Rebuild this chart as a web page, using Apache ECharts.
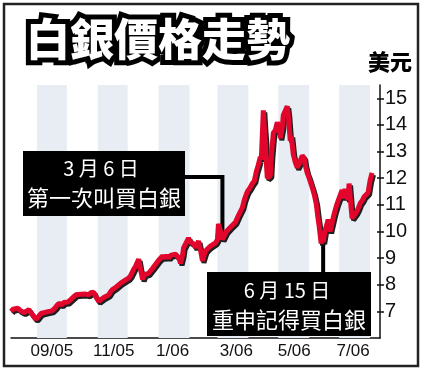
<!DOCTYPE html>
<html><head><meta charset="utf-8">
<script src="https://cdn.jsdelivr.net/npm/echarts@6/dist/echarts.min.js"></script>
<style>html,body{margin:0;padding:0;background:#fff;}#c{width:423px;height:371px;}</style>
</head><body><div id="c"></div>
<script>
const dates = ['2005-08-06','2005-08-08','2005-08-10','2005-08-13','2005-08-15','2005-08-17','2005-08-19','2005-08-21','2005-08-24','2005-08-26','2005-08-29','2005-08-31',
'2005-09-02','2005-09-05','2005-09-08','2005-09-11','2005-09-13','2005-09-16','2005-09-19','2005-09-21','2005-09-23','2005-09-26','2005-09-28','2005-09-30',
'2005-10-02','2005-10-05','2005-10-07','2005-10-10','2005-10-12','2005-10-15','2005-10-17','2005-10-20','2005-10-23','2005-10-25','2005-10-28','2005-10-30',
'2005-11-02','2005-11-04','2005-11-07','2005-11-09','2005-11-12','2005-11-14','2005-11-16','2005-11-19','2005-11-21','2005-11-24','2005-11-26','2005-11-29',
'2005-12-02','2005-12-04','2005-12-07','2005-12-09','2005-12-12','2005-12-14','2005-12-16','2005-12-18','2005-12-20','2005-12-22','2005-12-24','2005-12-26','2005-12-29',
'2006-01-01','2006-01-03','2006-01-05','2006-01-07','2006-01-09','2006-01-11','2006-01-13','2006-01-15','2006-01-18','2006-01-20','2006-01-22','2006-01-23','2006-01-25','2006-01-26','2006-01-28','2006-01-31',
'2006-02-02','2006-02-05','2006-02-07','2006-02-10','2006-02-12','2006-02-14','2006-02-16','2006-02-17','2006-02-19','2006-02-22','2006-02-24','2006-02-27',
'2006-03-01','2006-03-02','2006-03-04','2006-03-06','2006-03-08','2006-03-10','2006-03-12','2006-03-15','2006-03-17','2006-03-19','2006-03-22','2006-03-24','2006-03-26','2006-03-28','2006-03-30','2006-03-31',
'2006-04-02','2006-04-05','2006-04-07','2006-04-09','2006-04-11','2006-04-13','2006-04-14','2006-04-16','2006-04-17','2006-04-18','2006-04-19','2006-04-20','2006-04-22','2006-04-23','2006-04-24','2006-04-26','2006-04-28','2006-04-30',
'2006-05-02','2006-05-03','2006-05-05','2006-05-06','2006-05-08','2006-05-10','2006-05-11','2006-05-13','2006-05-14','2006-05-16','2006-05-18','2006-05-20','2006-05-22','2006-05-23','2006-05-25','2006-05-27','2006-05-28','2006-05-30',
'2006-06-01','2006-06-04','2006-06-06','2006-06-08','2006-06-10','2006-06-11','2006-06-13','2006-06-14','2006-06-15','2006-06-17','2006-06-19','2006-06-20','2006-06-22','2006-06-25','2006-06-27','2006-06-29',
'2006-07-01','2006-07-02','2006-07-04','2006-07-06','2006-07-07','2006-07-09','2006-07-10','2006-07-11','2006-07-13','2006-07-14','2006-07-16','2006-07-18','2006-07-20','2006-07-22','2006-07-24','2006-07-26','2006-07-28','2006-07-30',
'2006-08-01','2006-08-03'];
const prices = [7.00,7.08,7.02,7.12,7.04,6.98,6.95,7.02,7.06,6.95,6.80,6.70,
6.78,6.92,6.95,6.98,7.05,7.02,7.12,7.22,7.30,7.25,7.33,7.38,
7.35,7.45,7.50,7.62,7.68,7.64,7.70,7.65,7.62,7.70,7.72,7.55,
7.38,7.45,7.52,7.57,7.62,7.75,7.83,7.90,7.96,8.06,8.10,8.18,
8.25,8.35,8.58,8.70,8.96,8.55,8.20,8.38,8.32,8.43,8.50,8.62,8.77,
8.92,8.98,9.08,9.00,9.10,9.00,9.10,9.05,9.15,9.05,8.95,8.80,9.10,9.38,9.45,9.75,
9.60,9.53,9.40,9.64,9.30,8.90,9.15,9.26,9.35,9.45,9.40,9.57,
9.70,10.28,10.00,9.70,9.85,10.00,10.05,10.20,10.25,10.35,10.60,10.75,10.90,11.20,11.40,11.50,
11.60,11.80,11.90,12.25,12.50,12.80,12.70,14.55,13.90,13.40,12.60,12.00,11.95,12.10,12.80,13.70,13.80,14.10,
13.90,13.50,13.90,14.36,14.30,14.70,14.40,13.40,13.60,12.90,12.60,12.40,12.55,12.50,12.85,12.75,12.50,12.20,
12.00,11.65,11.40,11.05,10.45,10.20,9.55,9.70,9.60,10.05,10.30,10.45,10.00,10.50,10.80,11.05,
11.25,11.20,11.55,11.25,11.60,11.30,11.20,11.80,10.90,10.50,10.55,10.70,10.85,11.05,11.15,11.30,11.30,11.45,
11.90,12.20];
const bandStarts = ['2005-09-01','2005-11-01','2006-01-01','2006-03-01','2006-05-01','2006-07-01'];
const bandEnds   = ['2005-10-01','2005-12-01','2006-02-01','2006-04-01','2006-06-01','2006-08-01'];
const xTickDates = ['2005-09-16','2005-11-17','2006-01-15','2006-03-20','2006-05-17','2006-07-15'];
const xTickLabels = ['09/05','11/05','1/06','3/06','5/06','7/06'];
const yTicks = [7,8,9,10,11,12,13,14,15];
const titleText = '白銀價格走勢';
const unitText = '美元';
const note1Date = '2006-03-06', note1Lines = ['3 月 6 日','第一次叫買白銀'];
const note2Date = '2006-06-15', note2Lines = ['6 月 15 日','重申記得買白銀'];

// dates -> day number (days since 1970-01-01, UTC) for a linear value axis
const t = s => { const p = s.split('-').map(Number); return Math.round(Date.UTC(p[0], p[1]-1, p[2]) / 86400000); };
const xTickTs = xTickDates.map(t);
const numFont = '"Liberation Sans Narrow","Liberation Sans",Arial,sans-serif';
const cjk = '"Noto Sans CJK TC","Noto Sans CJK SC",sans-serif';

const chart = echarts.init(document.getElementById('c'), null, {renderer:'canvas'});
const data = dates.map((d,i)=>[t(d), prices[i]]);
chart.setOption({
  animation:false,
  grid:{left:11,right:43,top:85,bottom:33},
  xAxis:{type:'value', min:t('2005-08-06'), max:t('2006-08-11'),
    axisLine:{lineStyle:{color:'#111',width:1.5}}, axisTick:{show:false}, splitLine:{show:false},
    axisLabel:{customValues:xTickTs, formatter:v=>{const i=xTickTs.indexOf(v); return i>=0?xTickLabels[i]:'';},
      color:'#111', fontSize:17, fontFamily:numFont, margin:5, hideOverlap:false, showMinLabel:true, showMaxLabel:true}},
  yAxis:[{type:'value', position:'right', min:6, max:15.5, interval:1,
      axisLine:{show:true, lineStyle:{color:'#111',width:1.5}},
      axisTick:{show:true, length:4, customValues:yTicks, lineStyle:{color:'#111',width:1.5}},
      axisLabel:{customValues:yTicks, color:'#111', fontSize:20, fontFamily:numFont, margin:5},
      splitLine:{show:false}},
    {type:'value', position:'right', min:6, max:15.5, interval:1,
      axisLine:{show:false},
      axisTick:{show:true, inside:true, length:3, customValues:yTicks, lineStyle:{color:'#111',width:1.5}},
      axisLabel:{show:false}, splitLine:{show:false}}],
  series:[
    {type:'line', data:data, symbol:'none', lineStyle:{opacity:0}, z:0, silent:true,
      markArea:{silent:true, itemStyle:{color:'#e8edf3'}, data:bandStarts.map((b,i)=>[{xAxis:t(b)},{xAxis:t(bandEnds[i])}])}},
    {type:'line', data:data, symbol:'none', showSymbol:false, z:5,
      lineStyle:{color:'#e2062c', width:5, shadowColor:'rgba(20,20,20,0.95)', shadowBlur:0.5, shadowOffsetX:1.5, shadowOffsetY:2}}
  ]
});

function priceAt(d){ return prices[dates.indexOf(d)]; }
const p1 = chart.convertToPixel({seriesIndex:1}, [t(note1Date), priceAt(note1Date)]);
const p2 = chart.convertToPixel({seriesIndex:1}, [t(note2Date), priceAt(note2Date)]);

const box1 = {x:23,y:151,w:162,h:65};
const box2 = {x:207,y:272,w:164,h:64};
chart.setOption({graphic:[
  {type:'rect', z:100, shape:{x:4,y:4,width:414,height:362}, style:{fill:'none', stroke:'#222', lineWidth:2.5}},
  {type:'text', z:100, style:{text:titleText, x:158, y:39, align:'center', verticalAlign:'middle', font:'900 44px '+cjk, fill:'#000', stroke:'#000', lineWidth:10, lineJoin:'round'}},
  {type:'text', z:101, style:{text:titleText, x:158, y:39, align:'center', verticalAlign:'middle', font:'900 44px '+cjk, fill:'#fff'}},
  {type:'text', z:100, style:{text:unitText, x:390, y:62, align:'center', verticalAlign:'middle', font:'900 22px '+cjk, fill:'#000'}},
  {type:'polyline', z:3, shape:{points:[[box1.x+box1.w,177],[p1[0],177],[p1[0],p1[1]]]}, style:{fill:'none', stroke:'#000', lineWidth:4}},
  {type:'polyline', z:3, shape:{points:[[p2[0],box2.y],[p2[0],p2[1]]]}, style:{fill:'none', stroke:'#000', lineWidth:4}},
  {type:'rect', z:100, shape:{x:box1.x,y:box1.y,width:box1.w,height:box1.h}, style:{fill:'#000'}},
  {type:'text', z:101, style:{text:note1Lines[0], x:101, y:168, align:'center', verticalAlign:'middle', font:'20px '+cjk, fill:'#fff'}},
  {type:'text', z:101, style:{text:note1Lines[1], x:104, y:198, align:'center', verticalAlign:'middle', font:'22px '+cjk, fill:'#fff'}},
  {type:'rect', z:100, shape:{x:box2.x,y:box2.y,width:box2.w,height:box2.h}, style:{fill:'#000'}},
  {type:'text', z:101, style:{text:note2Lines[0], x:287, y:290, align:'center', verticalAlign:'middle', font:'20px '+cjk, fill:'#fff'}},
  {type:'text', z:101, style:{text:note2Lines[1], x:289, y:320, align:'center', verticalAlign:'middle', font:'22px '+cjk, fill:'#fff'}}
]});
</script></body></html>
